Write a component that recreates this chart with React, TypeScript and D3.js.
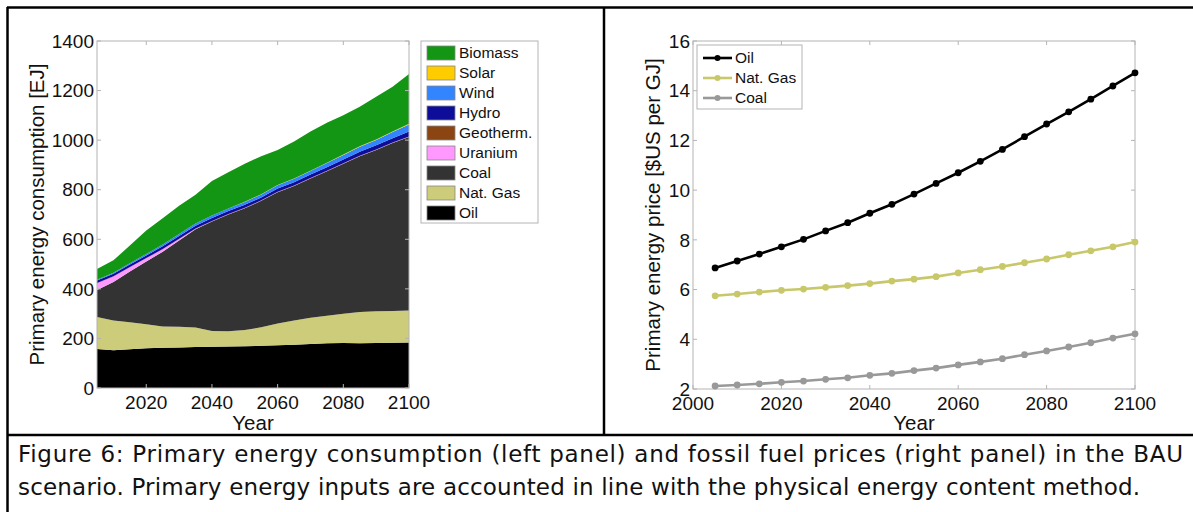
import { area, line, scaleLinear, stack } from 'd3'

// ---- data ----
const years = [2005, 2010, 2015, 2020, 2025, 2030, 2035, 2040, 2045, 2050, 2055, 2060, 2065, 2070, 2075, 2080, 2085, 2090, 2095, 2100]

// primary energy consumption [EJ] per source (stacked bottom to top)
const oil = [157, 152, 156, 160, 162, 163, 165, 166, 167, 168, 170, 172, 175, 178, 181, 182, 181, 182, 183, 184]
const natGas = [129, 120, 109, 97, 86, 84, 79, 64, 62, 66, 75, 88, 97, 105, 111, 118, 126, 128, 128, 129]
const coal = [109, 156, 205, 253, 302, 348, 396, 442, 471, 491, 510, 530, 543, 562, 583, 605, 628, 650, 677, 700]
const uranium = [28, 22, 17, 13, 10, 6, 3, 1, 1, 1, 1, 1, 1, 1, 1, 1, 1, 1, 1, 1]
const geotherm = [1, 1, 1, 1, 1, 1, 1, 1, 1, 1, 1, 1, 1, 1, 1, 1, 1, 1, 1, 1]
const hydro = [10, 10, 10, 11, 11, 11, 11, 12, 12, 12, 12, 13, 13, 14, 14, 15, 16, 17, 18, 20]
const wind = [3, 4, 5, 6, 7, 8, 9, 10, 10, 11, 12, 13, 14, 15, 17, 18, 20, 22, 25, 28]
const solar = [0, 0, 0, 0, 0, 0, 0, 0, 0, 1, 1, 1, 1, 1, 1, 2, 2, 2, 2, 3]
const biomass = [43, 50, 72, 94, 106, 114, 116, 139, 146, 154, 153, 141, 150, 158, 161, 158, 160, 172, 180, 201]

// fossil fuel prices [$US per GJ]
const oilPrice = [6.87, 7.15, 7.43, 7.72, 8.02, 8.36, 8.69, 9.07, 9.43, 9.84, 10.27, 10.7, 11.16, 11.64, 12.15, 12.66, 13.15, 13.66, 14.19, 14.72]
const gasPrice = [5.75, 5.82, 5.9, 5.97, 6.02, 6.09, 6.16, 6.24, 6.34, 6.42, 6.52, 6.67, 6.8, 6.93, 7.08, 7.23, 7.4, 7.56, 7.72, 7.91]
const coalPrice = [2.12, 2.16, 2.21, 2.27, 2.32, 2.39, 2.45, 2.55, 2.63, 2.74, 2.84, 2.97, 3.09, 3.22, 3.38, 3.53, 3.69, 3.86, 4.05, 4.22]

const leftXTicks = [2020, 2040, 2060, 2080, 2100]
const leftYTicks = [0, 200, 400, 600, 800, 1000, 1200, 1400]
const rightXTicks = [2000, 2020, 2040, 2060, 2080, 2100]
const rightYTicks = [2, 4, 6, 8, 10, 12, 14, 16]

const captionLines = [
  'Figure 6: Primary energy consumption (left panel) and fossil fuel prices (right panel) in the BAU',
  'scenario. Primary energy inputs are accounted in line with the physical energy content method.',
]

const sources = [
  { key: 'Oil', values: oil, color: '#000000' },
  { key: 'Nat. Gas', values: natGas, color: '#cccc7a' },
  { key: 'Coal', values: coal, color: '#333333' },
  { key: 'Uranium', values: uranium, color: '#ff99ff' },
  { key: 'Geotherm.', values: geotherm, color: '#8b4513' },
  { key: 'Hydro', values: hydro, color: '#0d0d99' },
  { key: 'Wind', values: wind, color: '#3385ff' },
  { key: 'Solar', values: solar, color: '#ffcc00' },
  { key: 'Biomass', values: biomass, color: '#139613' },
]

const prices = [
  { key: 'Oil', values: oilPrice, color: '#000000' },
  { key: 'Nat. Gas', values: gasPrice, color: '#c8c86a' },
  { key: 'Coal', values: coalPrice, color: '#999999' },
]

const font = '"Liberation Sans", Arial, sans-serif'
const axisColor = '#b4b4b4'
const tickLen = 4
const tickFont = 19
const labelFont = 20.5

const left = { x0: 97, x1: 409, y0: 388, y1: 41 }
const right = { x0: 693, x1: 1135, y0: 389, y1: 41 }

const xL = scaleLinear().domain([2005, 2100]).range([left.x0, left.x1])
const yL = scaleLinear().domain([0, 1400]).range([left.y0, left.y1])
const xR = scaleLinear().domain([2000, 2100]).range([right.x0, right.x1])
const yR = scaleLinear().domain([2, 16]).range([right.y0, right.y1])

type Row = { [k: string]: number }
const rows: Row[] = years.map((year, i) => {
  const r: Row = { year }
  sources.forEach((s) => {
    r[s.key] = s.values[i]
  })
  return r
})
const stacked = stack<Row>().keys(sources.map((s) => s.key))(rows)

const areaGen = area<[number, number]>()
  .x((_, i) => xL(years[i]))
  .y0((d) => yL(d[0]))
  .y1((d) => yL(d[1]))

const lineGen = line<number>()
  .x((_, i) => xR(years[i]))
  .y((d) => yR(d))

interface BoxProps {
  b: { x0: number; x1: number; y0: number; y1: number }
  xTicks: number[]
  yTicks: number[]
  xs: (v: number) => number
  ys: (v: number) => number
}

const AxisBox = ({ b, xTicks, yTicks, xs, ys }: BoxProps) => (
  <g>
    <rect x={b.x0} y={b.y1} width={b.x1 - b.x0} height={b.y0 - b.y1} fill="none" stroke={axisColor} strokeWidth={1} />
    {xTicks.map((t) => (
      <g key={`x${t}`}>
        <line x1={xs(t)} x2={xs(t)} y1={b.y0} y2={b.y0 - tickLen} stroke={axisColor} />
        <line x1={xs(t)} x2={xs(t)} y1={b.y1} y2={b.y1 + tickLen} stroke={axisColor} />
        <text x={xs(t)} y={b.y0 + 20.5} textAnchor="middle" fontSize={tickFont} fill="#111">
          {t}
        </text>
      </g>
    ))}
    {yTicks.map((t) => (
      <g key={`y${t}`}>
        <line x1={b.x0} x2={b.x0 + tickLen} y1={ys(t)} y2={ys(t)} stroke={axisColor} />
        <line x1={b.x1} x2={b.x1 - tickLen} y1={ys(t)} y2={ys(t)} stroke={axisColor} />
        <text x={b.x0 - 3} y={ys(t)} dy="0.35em" textAnchor="end" fontSize={tickFont} fill="#111">
          {t}
        </text>
      </g>
    ))}
  </g>
)

const legendOrder = [...sources].reverse()

const App = () => {
  return (
    <div style={{ position: 'fixed', left: 0, top: 0 }}>
      <svg width={1193} height={512} viewBox="0 0 1193 512" fontFamily={font} style={{ display: 'block', background: '#fff' }}>
        {/* left panel: stacked areas */}
        {stacked.map((layer, i) => (
          <path key={layer.key} d={areaGen(layer as unknown as [number, number][]) ?? ''} fill={sources[i].color} />
        ))}
        <AxisBox b={left} xTicks={leftXTicks} yTicks={leftYTicks} xs={xL} ys={yL} />
        <text x={(left.x0 + left.x1) / 2} y={430} textAnchor="middle" fontSize={labelFont} fill="#111">
          Year
        </text>
        <text
          transform={`translate(44, ${(left.y0 + left.y1) / 2}) rotate(-90)`}
          textAnchor="middle"
          fontSize={labelFont}
          fill="#111"
        >
          Primary energy consumption [EJ]
        </text>

        <rect x={421} y={41} width={117} height={182} fill="#fff" stroke={axisColor} />
        {legendOrder.map((s, i) => (
          <g key={s.key} transform={`translate(427, ${53 + i * 20})`}>
            <rect x={0} y={-7} width={28} height={14} fill={s.color} stroke="#888" strokeWidth={0.8} />
            <text x={32} y={0} dy="0.35em" fontSize={15.5} fill="#111">
              {s.key}
            </text>
          </g>
        ))}

        {/* right panel: price lines */}
        <AxisBox b={right} xTicks={rightXTicks} yTicks={rightYTicks} xs={xR} ys={yR} />
        {prices.map((p) => (
          <g key={p.key}>
            <path d={lineGen(p.values) ?? ''} fill="none" stroke={p.color} strokeWidth={2.6} />
            {p.values.map((v, i) => (
              <circle key={years[i]} cx={xR(years[i])} cy={yR(v)} r={3.4} fill={p.color} />
            ))}
          </g>
        ))}
        <text x={(right.x0 + right.x1) / 2} y={430} textAnchor="middle" fontSize={labelFont} fill="#111">
          Year
        </text>
        <text
          transform={`translate(660, ${(right.y0 + right.y1) / 2}) rotate(-90)`}
          textAnchor="middle"
          fontSize={labelFont}
          fill="#111"
        >
          Primary energy price [$US per GJ]
        </text>

        <rect x={697} y={45} width={105} height={64} fill="#fff" stroke={axisColor} />
        {prices.map((p, i) => (
          <g key={p.key} transform={`translate(703, ${58 + i * 20})`}>
            <line x1={0} x2={29} y1={0} y2={0} stroke={p.color} strokeWidth={2.6} />
            <circle cx={14.5} cy={0} r={3} fill={p.color} />
            <text x={32} y={0} dy="0.35em" fontSize={15.5} fill="#111">
              {p.key}
            </text>
          </g>
        ))}

        {/* frame */}
        <g stroke="#000" strokeWidth={2.5}>
          <line x1={7} x2={1193} y1={7.5} y2={7.5} />
          <line x1={7} x2={1193} y1={435} y2={435} />
          <line x1={7.5} x2={7.5} y1={7} y2={512} />
          <line x1={604} x2={604} y1={7} y2={435} />
        </g>

        {/* caption */}
        <g fontFamily='"DejaVu Sans", sans-serif' fontSize={23} fill="#111">
          <text x={18} y={462} textLength={1165} lengthAdjust="spacing">
            {captionLines[0]}
          </text>
          <text x={18} y={495} textLength={1122} lengthAdjust="spacing">
            {captionLines[1]}
          </text>
        </g>
      </svg>
    </div>
  )
}

export default App
